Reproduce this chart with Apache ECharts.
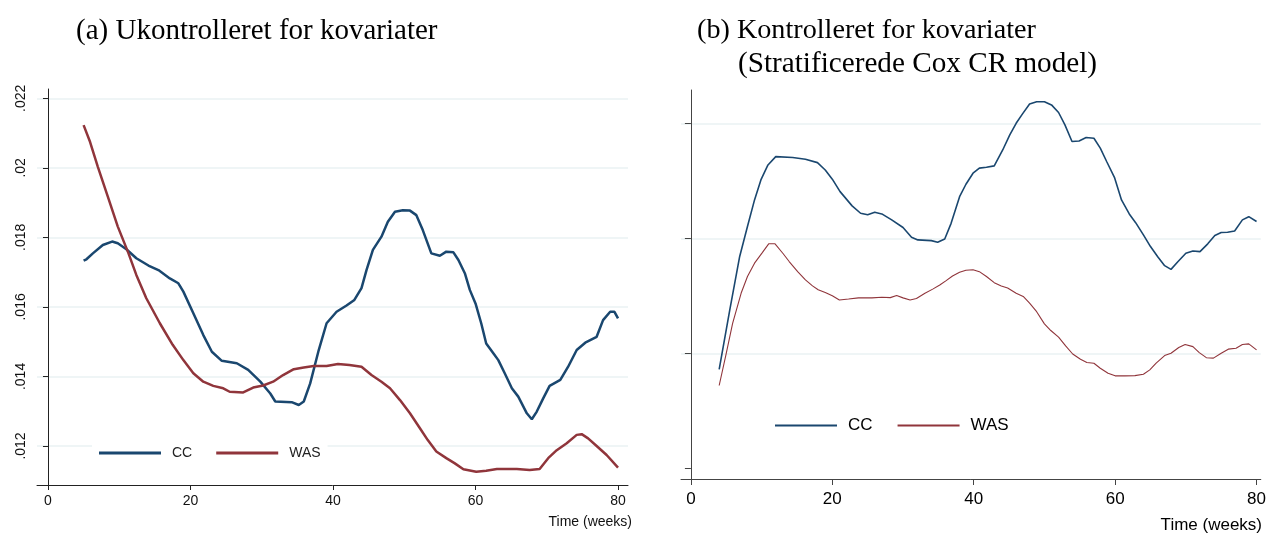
<!DOCTYPE html>
<html>
<head>
<meta charset="utf-8">
<script src="https://cdn.jsdelivr.net/npm/echarts@6.0.0/dist/echarts.min.js"></script>
<style>
  html, body { margin: 0; padding: 0; background: #fff; }
  #chart { width: 1269px; height: 533px; }
</style>
</head>
<body>
<div id="chart"></div>
<script>
// ---------- Panel (a): unadjusted ----------
const weeksCC_a = [5.0,5.4,6.3,7.7,9.0,9.8,11.0,12.4,14.1,15.5,17.1,18.3,19.0,20.4,21.8,23.0,24.4,26.5,28.1,29.8,31.2,31.9,34.2,35.2,35.9,36.8,38.0,39.1,40.5,41.9,43.0,44.0,44.7,45.6,46.8,47.7,48.7,49.8,50.8,51.7,52.6,53.8,55.0,55.9,56.9,57.6,58.5,59.2,60.0,60.8,61.5,62.5,63.2,64.1,65.1,66.0,67.2,67.9,68.6,69.5,70.4,71.9,73.0,74.2,75.4,77.0,77.9,78.9,79.5,80.0];
const cc_a = [.01733,.01737,.01754,.01778,.01788,.01783,.01766,.0174,.01719,.01706,.01682,.01668,.01644,.01582,.01519,.01471,.01445,.01438,.01419,.01385,.01351,.01328,.01326,.01318,.01328,.0138,.01476,.01553,.01586,.01604,.0162,.01654,.01706,.01764,.01802,.01845,.01874,.01878,.01877,.01864,.01821,.01754,.01747,.01759,.01757,.01735,.01697,.01649,.0161,.01553,.01495,.01467,.01447,.01409,.01366,.01342,.01294,.01277,.01299,.01337,.01373,.0139,.01428,.01476,.01497,.01514,.01562,.01586,.01586,.01567];

const weeksWAS_a = [5.0,5.9,7.0,8.4,9.8,11.3,12.4,13.8,15.7,17.5,19.0,20.4,21.8,23.2,24.6,25.5,27.4,28.8,30.2,31.6,33.0,34.5,35.9,37.3,39.1,40.7,42.3,44.0,45.4,46.8,48.0,49.4,50.8,52.2,53.3,54.5,55.9,57.1,58.3,60.1,61.5,63.0,65.8,67.6,69.0,70.2,71.4,72.8,74.2,74.9,75.8,77.0,78.4,80.0];
const was_a = [.02123,.02075,.02003,.01917,.01831,.01754,.01692,.01625,.01553,.01491,.01447,.01409,.01385,.01373,.01366,.01356,.01354,.01368,.01374,.01385,.01404,.01421,.01426,.0143,.0143,.01436,.01433,.01428,.01404,.01385,.01366,.01332,.01294,.01251,.01217,.01184,.01165,.0115,.01133,.01126,.01129,.01134,.01134,.01131,.01134,.01165,.01188,.01208,.01232,.01234,.01222,.012,.01174,.01138];

// ---------- Panel (b): adjusted (stratified Cox CR model) ----------
const weeksCC_b = [4.0,5.5,6.9,8.0,9.0,9.9,10.9,12.0,14.4,16.2,17.9,19.0,20.0,21.1,22.8,24.0,25.0,26.0,27.0,28.4,30.0,31.2,32.1,34.0,34.9,35.9,36.8,38.0,38.9,39.9,40.8,41.8,42.9,44.1,45.1,46.0,46.9,47.9,48.9,50.0,51.0,52.0,52.9,53.9,54.9,55.9,57.0,57.9,58.8,59.9,60.9,62.0,62.9,64.0,65.0,66.0,67.0,67.9,68.9,70.0,71.0,72.0,73.1,74.1,75.0,75.9,76.9,78.0,78.9,80.0];
const cc_b = [.0093,.01189,.01421,.01551,.01667,.01754,.01819,.01855,.01851,.01844,.01829,.01797,.01757,.01703,.01641,.01609,.01602,.01613,.01606,.0158,.01547,.01505,.01493,.0149,.01483,.01497,.01565,.01681,.01735,.01783,.01805,.01809,.01815,.01884,.0195,.02,.02041,.02084,.02094,.02094,.0208,.02047,.01993,.01921,.01923,.01938,.01935,.01892,.01834,.01765,.01667,.01606,.01568,.01515,.01464,.01421,.01381,.01365,.01399,.01435,.01445,.01442,.01476,.01512,.01525,.01526,.01532,.0158,.01594,.01573];

const weeksWAS_b = [4.0,5.0,5.9,7.1,8.0,9.0,10.1,11.0,11.9,13.0,13.9,15.1,16.2,17.2,18.0,19.0,20.0,21.0,22.3,23.7,25.6,27.0,28.2,29.1,30.0,31.0,31.9,33.1,34.2,35.2,36.1,37.0,38.0,38.9,39.9,40.8,41.8,42.9,43.9,44.8,46.0,47.0,47.9,48.9,50.0,50.9,52.0,53.0,54.0,55.1,56.0,57.0,57.9,59.0,60.0,61.4,62.8,64.0,64.9,65.8,67.0,67.9,69.0,69.9,71.0,71.9,72.9,73.9,75.0,76.0,77.1,78.0,78.9,80.0];
const was_b = [.0086,.01,.0113,.01261,.01334,.01392,.01438,.01476,.01476,.01435,.01399,.01355,.01319,.01293,.01276,.01264,.0125,.01232,.01236,.01241,.01241,.01244,.01242,.01251,.01241,.01232,.01238,.01261,.01279,.01297,.01316,.01336,.01352,.01361,.01363,.01355,.01334,.01307,.01293,.01284,.01261,.01247,.01218,.01181,.01128,.01099,.0107,.01032,.00997,.00974,.0096,.00957,.00935,.00913,.00902,.00902,.00903,.00909,.00928,.00957,.0099,.01,.01025,.01038,.01029,.01003,.00981,.00979,.01,.01018,.01022,.01038,.01041,.01015];

// ---------- Ticks & labels ----------
const xTicks = [0, 20, 40, 60, 80];
const yTicks_a = [0.012, 0.014, 0.016, 0.018, 0.020, 0.022];
const yTicks_b = [0.005, 0.010, 0.015, 0.020];
const seriesNames = ['CC', 'WAS'];
const titleA = '(a) Ukontrolleret for kovariater';
const titleB1 = '(b) Kontrolleret for kovariater';
const titleB2 = '(Stratificerede Cox CR model)';
const xName = 'Time (weeks)';

// ---------- Styling ----------
const NAVY = '#1a476f';
const MAROON = '#90353b';
const GRID = '#eaf2f3';
const AXIS = '#222';
const NARROW = "'Liberation Sans Narrow', 'Liberation Sans', Arial, sans-serif";
const SANS = "'Liberation Sans', Arial, sans-serif";
const SERIF = "'Liberation Serif', 'Times New Roman', serif";

const zip = (xs, ys) => xs.map((x, i) => [x, ys[i]]);
const fmtY = v => String(+v.toFixed(3)).replace(/^0/, '');

const chart = echarts.init(document.getElementById('chart'), null, { renderer: 'canvas' });

chart.setOption({
  animation: false,
  backgroundColor: '#ffffff',
  grid: [
    { left: 37, top: 89, width: 591, height: 396 },
    { left: 681, top: 90, width: 585, height: 389 }
  ],
  xAxis: [
    {
      type: 'value', gridIndex: 0, min: -1.54, max: 81.4,
      axisLine: { show: true, lineStyle: { color: AXIS, width: 1 } },
      axisTick: { show: true, customValues: xTicks, length: 5, lineStyle: { color: AXIS } },
      axisLabel: { customValues: xTicks, fontFamily: NARROW, fontSize: 14, color: '#111', margin: 9 },
      splitLine: { show: false }
    },
    {
      type: 'value', gridIndex: 1, min: -1.4, max: 80.6,
      axisLine: { show: true, lineStyle: { color: '#444', width: 1 } },
      axisTick: { show: true, customValues: xTicks, length: 6, lineStyle: { color: '#444' } },
      axisLabel: { customValues: xTicks, fontFamily: SANS, fontSize: 17, color: '#000', margin: 12 },
      splitLine: { show: false }
    }
  ],
  yAxis: [
    {
      type: 'value', gridIndex: 0, min: 0.010878, max: 0.022268,
      axisLine: { show: true, lineStyle: { color: AXIS, width: 1 } },
      axisTick: { show: true, customValues: yTicks_a, length: 5, lineStyle: { color: AXIS } },
      axisLabel: { customValues: yTicks_a, rotate: 90, formatter: fmtY, fontFamily: NARROW, fontSize: 14, color: '#111', margin: 9 },
      splitLine: { show: true, lineStyle: { color: GRID, width: 1.5 } }
    },
    {
      type: 'value', gridIndex: 1, min: 0.004535, max: 0.021448,
      axisLine: { show: true, lineStyle: { color: '#444', width: 1 } },
      axisTick: { show: true, customValues: yTicks_b, length: 6, lineStyle: { color: '#444' } },
      axisLabel: { show: false },
      splitLine: { show: true, lineStyle: { color: ['rgba(0,0,0,0)', GRID, GRID, GRID], width: 1.5 } }
    }
  ],
  legend: [
    {
      data: seriesNames, selectedMode: false,
      left: 92, top: 438, padding: [8, 7, 8, 7], backgroundColor: '#ffffff',
      icon: 'rect', itemWidth: 62, itemHeight: 3, itemGap: 24,
      textStyle: { fontFamily: NARROW, fontSize: 14, color: '#222', padding: [0, 0, 0, 6] }
    },
    {
      data: seriesNames, selectedMode: false,
      left: 775, top: 417, padding: 0,
      icon: 'rect', itemWidth: 62, itemHeight: 2, itemGap: 25,
      textStyle: { fontFamily: SANS, fontSize: 17, color: '#000', padding: [0, 0, 0, 6] }
    }
  ],
  series: [
    { name: seriesNames[0], type: 'line', xAxisIndex: 0, yAxisIndex: 0, data: zip(weeksCC_a, cc_a),
      symbol: 'none', color: NAVY, lineStyle: { color: NAVY, width: 2.5 }, silent: true },
    { name: seriesNames[1], type: 'line', xAxisIndex: 0, yAxisIndex: 0, data: zip(weeksWAS_a, was_a),
      symbol: 'none', color: MAROON, lineStyle: { color: MAROON, width: 2.5 }, silent: true },
    { name: seriesNames[0], type: 'line', xAxisIndex: 1, yAxisIndex: 1, data: zip(weeksCC_b, cc_b),
      symbol: 'none', color: NAVY, lineStyle: { color: NAVY, width: 1.6 }, silent: true },
    { name: seriesNames[1], type: 'line', xAxisIndex: 1, yAxisIndex: 1, data: zip(weeksWAS_b, was_b),
      symbol: 'none', color: MAROON, lineStyle: { color: MAROON, width: 1.1 }, silent: true }
  ],
  graphic: [
    { type: 'text', x: 76, y: 31, silent: true,
      style: { text: titleA, font: '29px ' + SERIF, fill: '#000', textAlign: 'left', align: 'left', textVerticalAlign: 'middle', verticalAlign: 'middle' } },
    { type: 'text', x: 697, y: 31, silent: true,
      style: { text: titleB1, font: '28.2px ' + SERIF, fill: '#000', textAlign: 'left', align: 'left', textVerticalAlign: 'middle', verticalAlign: 'middle' } },
    { type: 'text', x: 738, y: 64, silent: true,
      style: { text: titleB2, font: '29.2px ' + SERIF, fill: '#000', textAlign: 'left', align: 'left', textVerticalAlign: 'middle', verticalAlign: 'middle' } },
    { type: 'text', x: 632, y: 522, silent: true,
      style: { text: xName, font: '14px ' + NARROW, fill: '#111', textAlign: 'right', align: 'right', textVerticalAlign: 'middle', verticalAlign: 'middle' } },
    { type: 'text', x: 1262, y: 525, silent: true,
      style: { text: xName, font: '17px ' + SANS, fill: '#000', textAlign: 'right', align: 'right', textVerticalAlign: 'middle', verticalAlign: 'middle' } }
  ]
});
</script>
</body>
</html>
